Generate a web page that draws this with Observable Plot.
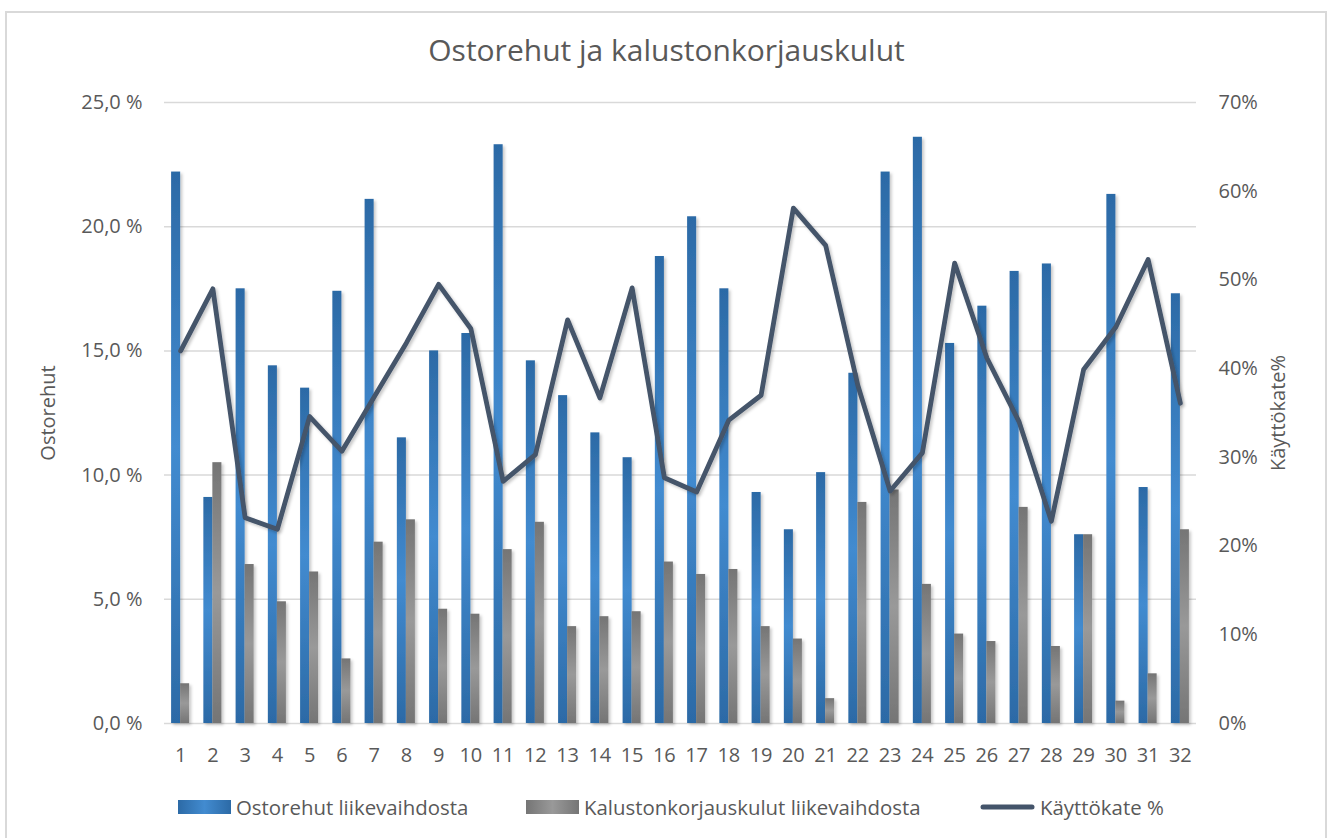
<!DOCTYPE html>
<html>
<head>
<meta charset="utf-8">
<script src="https://cdn.jsdelivr.net/npm/d3@7"></script>
<script src="https://cdn.jsdelivr.net/npm/@observablehq/plot@0.6"></script>
<style>
  html, body { margin: 0; padding: 0; background: #fff; width: 1333px; height: 838px; overflow: hidden; }
  body { font-family: "Open Sans", sans-serif; color: #595959; position: relative; }
  #frame { position: absolute; left: 5px; top: 11px; width: 1322px; height: 900px; border: 2px solid #d9d9d9; box-sizing: border-box; }
  #title { position: absolute; left: 0; width: 1333px; top: 35px; text-align: center; font-size: 30px; line-height: 1; color: #595959; }
  #chart { position: absolute; left: 0; top: 80px; }
  .leg { position: absolute; top: 797px; display: flex; align-items: center; font-size: 20.4px; line-height: 1; color: #595959; white-space: nowrap; }
  .leg svg { margin-right: 5px; display: block; }
</style>
</head>
<body>
<div id="frame"></div>
<div id="title">Ostorehut ja kalustonkorjauskulut</div>
<div id="chart"></div>
<div class="leg" style="left:178px"><svg width="53" height="14"><defs><linearGradient id="lgB" x1="0" y1="0" x2="1" y2="0"><stop offset="0" stop-color="#2C6AA6"/><stop offset="0.5" stop-color="#428BD0"/><stop offset="1" stop-color="#2C6AA6"/></linearGradient></defs><rect width="53" height="14" fill="url(#lgB)"/></svg><span>Ostorehut liikevaihdosta</span></div>
<div class="leg" style="left:526px"><svg width="53" height="14"><defs><linearGradient id="lgG" x1="0" y1="0" x2="1" y2="0"><stop offset="0" stop-color="#757575"/><stop offset="0.5" stop-color="#999999"/><stop offset="1" stop-color="#757575"/></linearGradient></defs><rect width="53" height="14" fill="url(#lgG)"/></svg><span>Kalustonkorjauskulut liikevaihdosta</span></div>
<div class="leg" style="left:980px"><svg width="55" height="14"><line x1="3" y1="7" x2="52" y2="7" stroke="#44546A" stroke-width="5" stroke-linecap="round"/></svg><span>Käyttökate %</span></div>
<script>
const categories = ["1","2","3","4","5","6","7","8","9","10","11","12","13","14","15","16","17","18","19","20","21","22","23","24","25","26","27","28","29","30","31","32"];
const ostorehut = [22.2,9.1,17.5,14.4,13.5,17.4,21.1,11.5,15.0,15.7,23.3,14.6,13.2,11.7,10.7,18.8,20.4,17.5,9.3,7.8,10.1,14.1,22.2,23.6,15.3,16.8,18.2,18.5,7.6,21.3,9.5,17.3];
const kalusto = [1.6,10.5,6.4,4.9,6.1,2.6,7.3,8.2,4.6,4.4,7.0,8.1,3.9,4.3,4.5,6.5,6.0,6.2,3.9,3.4,1.0,8.9,9.4,5.6,3.6,3.3,8.7,3.1,7.6,0.9,2.0,7.8];
const kayttokate = [42.0,49.0,23.2,21.9,34.6,30.7,36.8,42.9,49.5,44.5,27.3,30.3,45.5,36.7,49.1,27.7,26.1,34.2,37.0,58.1,53.9,38.1,26.2,30.5,51.9,41.2,34.0,22.8,39.9,44.7,52.3,36.1];
const leftTicks = [0,5,10,15,20,25];
const rightTicks = [0,10,20,30,40,50,60,70];
const leftMax = 25, rightMax = 70;

const rows = categories.map((c, i) => ({c, o: ostorehut[i], k: kalusto[i], m: kayttokate[i]}));
const toLeft = v => v * leftMax / rightMax;

const defs = () => {
  const d = d3.create("svg:defs");
  const gb = d.append("linearGradient").attr("id", "gBlue").attr("x1", 0).attr("y1", 0).attr("x2", 0).attr("y2", 1);
  gb.append("stop").attr("offset", 0).attr("stop-color", "#2C6AA6");
  gb.append("stop").attr("offset", 0.5).attr("stop-color", "#428BD0");
  gb.append("stop").attr("offset", 1).attr("stop-color", "#2C6AA6");
  const gg = d.append("linearGradient").attr("id", "gGray").attr("x1", 0).attr("y1", 0).attr("x2", 0).attr("y2", 1);
  gg.append("stop").attr("offset", 0).attr("stop-color", "#757575");
  gg.append("stop").attr("offset", 0.5).attr("stop-color", "#999999");
  gg.append("stop").attr("offset", 1).attr("stop-color", "#757575");
  const f = d.append("filter").attr("id", "shadow").attr("x", "-20%").attr("y", "-20%").attr("width", "160%").attr("height", "160%");
  f.append("feDropShadow").attr("dx", 2).attr("dy", 2).attr("stdDeviation", 1.8).attr("flood-color", "#000").attr("flood-opacity", 0.22);
  return d.node();
};

const chart = Plot.plot({
  width: 1333,
  height: 693,
  marginLeft: 164,
  marginRight: 137,
  marginTop: 22,
  marginBottom: 50,
  style: {fontFamily: "Open Sans", fontSize: "20px", color: "#595959", background: "transparent", overflow: "visible"},
  x: {type: "band", domain: categories, padding: 0, round: false},
  y: {domain: [0, leftMax]},
  marks: [
    defs,
    Plot.ruleY(leftTicks, {stroke: "#d9d9d9", strokeWidth: 1.5}),
    Plot.barY(rows, {x: "c", y: "o", fill: "url(#gBlue)", insetLeft: 7.1, insetRight: 16.1, className: "shadowed"}),
    Plot.barY(rows, {x: "c", y: "k", fill: "url(#gGray)", insetLeft: 16.1, insetRight: 7.1, className: "shadowed"}),
    Plot.line(rows, {x: "c", y: d => toLeft(d.m), stroke: "#44546A", strokeWidth: 4.8, strokeLinejoin: "round", strokeLinecap: "round", className: "shadowed"}),
    Plot.axisX({tickSize: 0, tickPadding: 24, label: null, fill: "#595959"}),
    Plot.axisY({anchor: "left", ticks: leftTicks, tickSize: 0, tickPadding: 22,
      tickFormat: v => v.toFixed(1).replace(".", ",") + " %",
      label: "Ostorehut", labelAnchor: "center", labelArrow: "none", labelOffset: 124, fill: "#595959"}),
    Plot.axisY({anchor: "right", ticks: rightTicks.map(toLeft), tickSize: 0, tickPadding: 22,
      tickFormat: v => Math.round(v * rightMax / leftMax) + "%",
      label: "Käyttökate%", labelAnchor: "center", labelArrow: "none", labelOffset: 88, fill: "#595959"})
  ]
});
document.getElementById("chart").appendChild(chart);
d3.select(chart).selectAll("g.shadowed, .shadowed").attr("filter", "url(#shadow)");
</script>
</body>
</html>
